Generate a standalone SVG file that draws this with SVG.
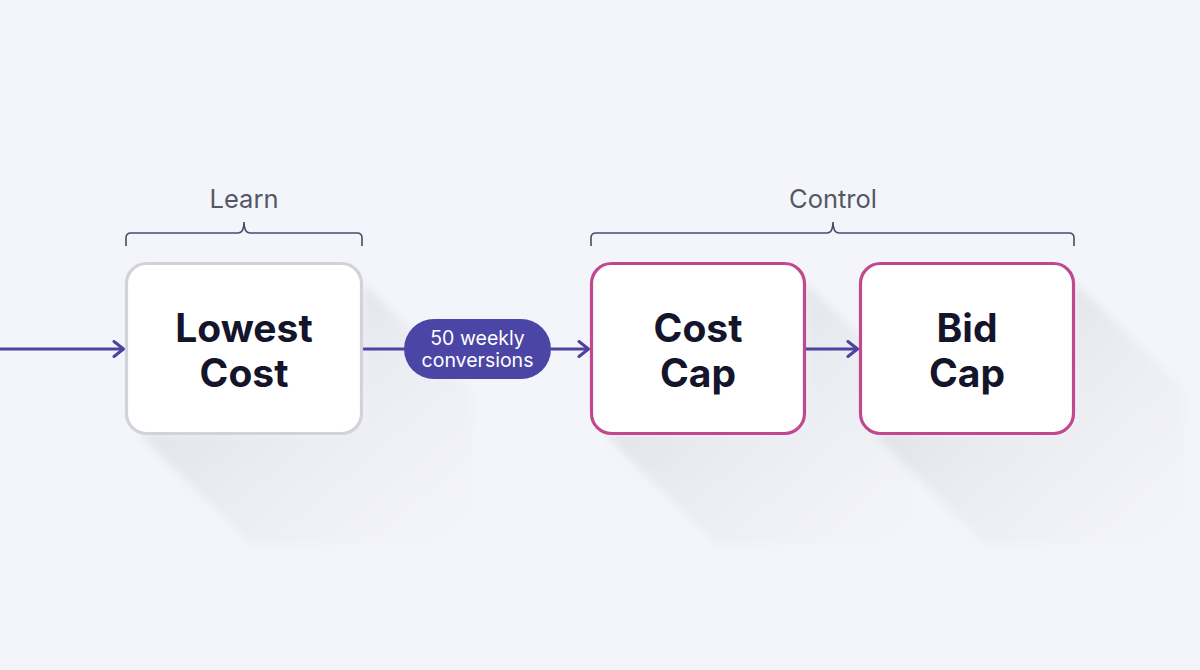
<svg xmlns="http://www.w3.org/2000/svg" width="1200" height="670" viewBox="0 0 1200 670">
<defs>
<style>
.node{fill:#ffffff;stroke-width:3.2}
.gray{stroke:#d2d3da}
.pink{stroke:#c1478f}
.title{font-family:Inter,"Liberation Sans",sans-serif;font-weight:700;font-size:39px;fill:#14142b;text-anchor:middle}
.group{font-family:Inter,"Liberation Sans",sans-serif;font-size:25.5px;fill:#555766;text-anchor:middle}
.pilltext{font-family:Inter,"Liberation Sans",sans-serif;font-size:19.5px;fill:#ffffff;text-anchor:middle}
.conn{stroke:#4c429f;stroke-width:3;fill:none}
.brace{stroke:#4a4a6a;stroke-width:1.6;fill:none}
.shadow{fill:url(#sg);filter:url(#blur)}
</style>
<linearGradient id="sg" x1="0" y1="0" x2="1" y2="1">
<stop offset="0" stop-color="#d6d7df" stop-opacity="1"/>
<stop offset="1" stop-color="#e8e9ef" stop-opacity="0"/>
</linearGradient>
<filter id="blur" x="-20%" y="-20%" width="140%" height="140%"><feGaussianBlur stdDeviation="4"/></filter>
<marker id="arr" viewBox="0 0 14 18" markerWidth="14" markerHeight="18" refX="12.5" refY="9" orient="auto" markerUnits="userSpaceOnUse">
<path d="M2.5,1.5 L12,9 L2.5,16.5" fill="none" stroke="#4c429f" stroke-width="3" stroke-linecap="round" stroke-linejoin="round"/>
</marker>
</defs>
<rect width="1200" height="670" fill="#f4f5fa"/>

<g id="shadows">
<polygon class="shadow" points="345,265 362,280 362,420 345,434 140,434 250,544 472,544 472,390"/>
<polygon class="shadow" points="788,265 805,280 805,420 788,434 605,434 715,544 915,544 915,390"/>
<polygon class="shadow" points="1057,265 1074,280 1074,420 1057,434 874,434 984,544 1184,544 1184,390"/>
</g>

<g id="connectors">
<line class="conn" x1="0" y1="349" x2="124" y2="349" marker-end="url(#arr)"/>
<line class="conn" x1="362" y1="349" x2="404" y2="349"/>
<line class="conn" x1="551" y1="349" x2="589" y2="349" marker-end="url(#arr)"/>
<line class="conn" x1="805" y1="349" x2="858" y2="349" marker-end="url(#arr)"/>
</g>

<g id="learn">
<path class="brace" d="M126,246 V238 Q126,233 131,233 H238 Q244,233 244,222 Q244,233 250,233 H357 Q362,233 362,238 V246"/>
<text class="group" x="244" y="208">Learn</text>
</g>

<g id="control">
<path class="brace" d="M591,246 V238 Q591,233 596,233 H827 Q833,233 833,222 Q833,233 839,233 H1069 Q1074,233 1074,238 V246"/>
<text class="group" x="833" y="208">Control</text>
</g>

<g id="lowest-cost">
<rect class="node gray" x="126.5" y="263.5" width="235" height="170" rx="20"/>
<text class="title" x="244" y="342">Lowest</text>
<text class="title" x="244" y="387">Cost</text>
</g>

<g id="pill">
<rect x="404" y="319" width="147" height="60" rx="30" fill="#4b45a5"/>
<text class="pilltext" x="477.5" y="345">50 weekly</text>
<text class="pilltext" x="477.5" y="367">conversions</text>
</g>

<g id="cost-cap">
<rect class="node pink" x="591.5" y="263.5" width="213" height="170" rx="20"/>
<text class="title" x="698" y="342">Cost</text>
<text class="title" x="698" y="387">Cap</text>
</g>

<g id="bid-cap">
<rect class="node pink" x="860.5" y="263.5" width="213" height="170" rx="20"/>
<text class="title" x="967" y="342">Bid</text>
<text class="title" x="967" y="387">Cap</text>
</g>
</svg>
